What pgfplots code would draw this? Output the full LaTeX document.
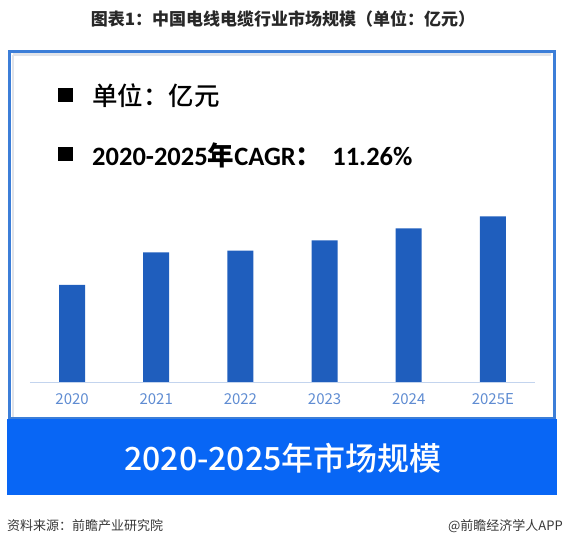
\documentclass[border=0pt]{standalone}
\usepackage{pgfplots}
\pgfplotsset{compat=1.18}
\usepackage{fontspec}
\setmainfont{Carlito}
\newfontfamily\cjk{Noto Sans CJK SC}
\newfontfamily\cjkm{Noto Sans CJK SC Medium}
\newfontfamily\carl{Carlito}
\definecolor{boxblue}{RGB}{60,126,216}
\definecolor{barblue}{RGB}{31,94,189}
\definecolor{bannerblue}{RGB}{8,102,245}
\definecolor{tickblue}{RGB}{95,140,210}
\definecolor{axisblue}{RGB}{195,212,238}
\definecolor{titlegray}{RGB}{40,40,40}
\definecolor{footgray}{RGB}{55,55,55}
\definecolor{shadowgray}{RGB}{225,228,234}
\begin{document}
\begin{tikzpicture}
\begin{scope}[x=1pt,y=-1pt]
\useasboundingbox (0,0) rectangle (566,548);
\node[font=\cjk\bfseries\fontsize{17}{17}\selectfont, text=titlegray] at (283,19) {图表1：中国电线电缆行业市场规模（单位：亿元）};
\draw[shadowgray, line width=3pt] (12.5,55) -- (551,55);
\draw[shadowgray, line width=2pt] (13,55) -- (13,417);
\draw[boxblue, line width=3pt] (9.5,51.5) rectangle (554,419);
\fill[bannerblue] (7,419) rectangle (557,495);
\node[text=white, font=\cjkm\fontsize{32}{32}\selectfont] at (283,458) {2020-2025年市场规模};
\fill[black] (58,88) rectangle (73,102);
\fill[black] (58,147) rectangle (73,161);
\node[anchor=west, inner sep=0pt, font=\fontsize{25.5}{25.5}\selectfont] at (92,96) {\cjkm 单位：亿元};
\node[anchor=west, inner sep=0pt, font=\fontsize{26.5}{26.5}\selectfont] at (92,155) {\carl\bfseries 2020-2025{\cjkm 年}CAGR{\cjkm ：}\hspace{10pt}11.26\%};
\node[anchor=west, inner sep=0pt, text=footgray, font=\cjk\fontsize{13}{13}\selectfont] at (7,526) {资料来源：前瞻产业研究院};
\node[anchor=east, inner sep=0pt, text=footgray, font=\cjk\fontsize{13}{13}\selectfont] at (563,526) {@前瞻经济学人APP};
\coordinate (ax) at (30,382);
\end{scope}
\begin{axis}[
  at={(ax)}, anchor=south west,
  width=505pt, height=182pt, scale only axis,
  xmin=-0.5, xmax=5.5, ymin=0, ymax=182,
  axis x line=bottom, axis y line=none,
  x axis line style={-, color=axisblue, line width=0.8pt},
  xtick={0,1,2,3,4,5},
  xticklabels={2020,2021,2022,2023,2024,2025E},
  major tick length=0pt,
  xticklabel style={font=\cjk\fontsize{15}{15}\selectfont, text=tickblue, yshift=-8pt},
  ybar, bar width=26pt,
  clip=false,
]
\addplot[fill=barblue, draw=none] coordinates {(0,97) (1,129.7) (2,131.3) (3,141.7) (4,153.7) (5,165.7)};
\end{axis}
\end{tikzpicture}
\end{document}
